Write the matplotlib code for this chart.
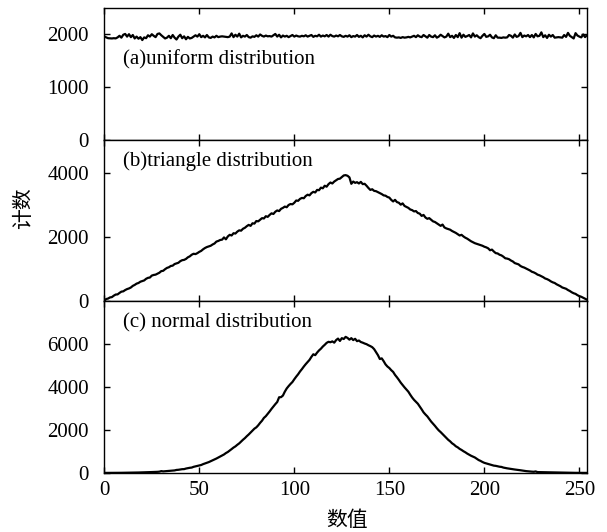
import numpy as np
import matplotlib
matplotlib.use("Agg")
import matplotlib.pyplot as plt

# 数据（从原图读出的各灰度级计数）
uniform_counts = [
    1965, 1945, 1930, 1928, 1925, 1930, 1926, 1945, 1975, 1940, 1995, 2010, 1960, 2005, 1950, 1990,
    1925, 1960, 1920, 1950, 1895, 1945, 1930, 1985, 1960, 2005, 1975, 1950, 2010, 2020, 1985, 1955,
    1925, 1940, 1975, 1930, 1990, 1940, 1905, 1960, 1995, 1930, 1965, 1910, 1955, 1925, 1935, 1960,
    1985, 1960, 2005, 1950, 1975, 1945, 1990, 1945, 1935, 1960, 1945, 1975, 1950, 1960, 1965, 1960,
    1955, 1950, 1960, 2020, 1950, 1995, 1960, 2015, 1945, 1975, 1960, 1990, 1950, 1940, 1965, 1955,
    1985, 1960, 2000, 1975, 1960, 1980, 1965, 1970, 1960, 1985, 2010, 1960, 1995, 1945, 1980, 1960,
    1975, 1950, 1970, 1990, 1960, 1980, 1965, 1960, 1975, 1965, 1985, 1960, 1975, 1990, 1955, 1975,
    1965, 1995, 1960, 1980, 1965, 1990, 1960, 1995, 1970, 1960, 1980, 1965, 1990, 1965, 1955, 1975,
    1960, 1985, 1950, 1970, 1960, 1990, 1955, 1975, 1945, 1985, 1960, 1995, 1965, 1950, 1980, 1960,
    1975, 1955, 1985, 1960, 1970, 1950, 1990, 1960, 1975, 1945, 1940, 1945, 1935, 1950, 1940, 1945,
    1955, 1945, 1960, 1975, 1950, 1985, 1960, 1950, 1990, 1965, 1940, 1990, 1960, 1950, 1985, 1940,
    1960, 1995, 1970, 1945, 1960, 2015, 1950, 1975, 1935, 1990, 1950, 2025, 1940, 1995, 1955, 1970,
    1990, 1945, 2020, 1960, 1985, 1950, 1930, 1975, 2010, 1955, 1965, 1995, 1945, 1930, 1985, 1940,
    1940, 1935, 1945, 1940, 1945, 1990, 1975, 1940, 2000, 1955, 1970, 2030, 1950, 1980, 1965, 1990,
    1950, 1990, 1945, 2010, 1965, 1975, 2040, 1950, 1985, 1935, 1995, 1960, 1990, 1940, 1945, 1950,
    1945, 1940, 1990, 1955, 2030, 1975, 1950, 1925, 2025, 1980, 1960, 1945, 2000, 1950, 1985, 1955,
]

triangle_counts = [
    10, 60, 75, 110, 120, 165, 200, 205, 250, 290, 300, 340, 370, 390, 420, 470,
    500, 540, 560, 600, 620, 640, 690, 720, 730, 790, 810, 820, 850, 880, 930, 940,
    990, 1030, 1050, 1090, 1100, 1150, 1170, 1190, 1240, 1270, 1280, 1310, 1360, 1390, 1440, 1470,
    1460, 1490, 1530, 1560, 1610, 1650, 1680, 1700, 1720, 1760, 1790, 1850, 1870, 1900, 1910, 1980,
    1920, 2010, 2060, 2040, 2110, 2100, 2160, 2200, 2190, 2250, 2280, 2330, 2370, 2340, 2420, 2410,
    2490, 2480, 2530, 2580, 2570, 2640, 2620, 2680, 2730, 2710, 2780, 2820, 2800, 2870, 2900, 2940,
    2920, 2990, 3020, 3010, 3060, 3130, 3120, 3180, 3210, 3200, 3270, 3310, 3290, 3360, 3400, 3380,
    3460, 3450, 3530, 3510, 3590, 3560, 3640, 3690, 3660, 3720, 3760, 3800, 3810, 3860, 3910, 3920,
    3900, 3850, 3650, 3720, 3680, 3700, 3660, 3710, 3640, 3650, 3590, 3520, 3460, 3480, 3430, 3420,
    3390, 3360, 3330, 3290, 3280, 3240, 3220, 3150, 3100, 3150, 3080, 3060, 3000, 3040, 2960, 2930,
    2900, 2850, 2830, 2790, 2800, 2740, 2720, 2650, 2680, 2600, 2560, 2580, 2530, 2480, 2460, 2420,
    2380, 2340, 2380, 2290, 2260, 2240, 2220, 2180, 2150, 2120, 2080, 2040, 2060, 2010, 1970, 1940,
    1900, 1860, 1830, 1800, 1780, 1760, 1740, 1720, 1690, 1670, 1640, 1580, 1600, 1540, 1490, 1480,
    1440, 1420, 1380, 1330, 1320, 1300, 1260, 1230, 1180, 1160, 1140, 1090, 1060, 1040, 1010, 980,
    950, 910, 890, 860, 820, 800, 770, 740, 700, 680, 650, 610, 580, 560, 520, 490,
    460, 420, 400, 380, 340, 310, 270, 240, 220, 180, 150, 130, 100, 70, 40, 10,
]

normal_counts = [
    2, 2, 3, 3, 4, 4, 5, 6, 6, 7, 8, 9, 10, 12, 13, 15,
    17, 19, 21, 23, 26, 29, 31, 35, 38, 41, 45, 50, 52, 60, 85, 72,
    80, 83, 98, 104, 115, 118, 140, 147, 160, 175, 178, 205, 224, 240, 250, 285,
    305, 330, 345, 370, 410, 440, 470, 505, 545, 585, 630, 670, 720, 765, 810, 860,
    925, 975, 1040, 1110, 1180, 1235, 1310, 1375, 1460, 1545, 1620, 1710, 1790, 1880, 1975, 2060,
    2120, 2215, 2330, 2430, 2560, 2640, 2750, 2860, 2980, 3090, 3200, 3300, 3520, 3525, 3600, 3780,
    3930, 4040, 4140, 4230, 4360, 4480, 4590, 4720, 4830, 4950, 5060, 5160, 5260, 5400, 5520, 5480,
    5600, 5700, 5780, 5880, 5960, 6050, 6100, 6080, 6120, 6060, 6180, 6250, 6140, 6270, 6230, 6330,
    6280, 6200, 6270, 6180, 6240, 6130, 6160, 6090, 6060, 6020, 5990, 5940, 5900, 5850, 5760, 5620,
    5480, 5300, 5330, 5200, 5050, 4950, 4880, 4780, 4700, 4560, 4450, 4330, 4200, 4090, 3980, 3880,
    3780, 3640, 3510, 3400, 3310, 3220, 3090, 2960, 2820, 2720, 2630, 2510, 2390, 2290, 2190, 2080,
    1980, 1900, 1810, 1720, 1630, 1540, 1470, 1380, 1320, 1240, 1190, 1120, 1070, 1010, 960, 900,
    850, 800, 760, 720, 660, 600, 560, 510, 470, 445, 420, 390, 365, 340, 330, 310,
    290, 280, 250, 230, 215, 200, 180, 170, 160, 150, 140, 125, 110, 95, 85, 75,
    68, 60, 55, 70, 40, 38, 35, 35, 32, 29, 26, 24, 21, 19, 17, 15,
    13, 12, 10, 9, 8, 7, 6, 6, 5, 4, 4, 3, 3, 2, 2, 2,
]

panel_labels = ["(a)uniform distribution", "(b)triangle distribution", "(c) normal distribution"]
panel_ylims = [2500, 5000, 8000]
panel_yticks = [[0, 1000, 2000], [0, 2000, 4000], [0, 2000, 4000, 6000]]
label_ypos = [0.61, 0.87, 0.87]
x_ticks = [0, 50, 100, 150, 200, 250]

plt.rcParams["font.family"] = ["Liberation Serif", "DejaVu Serif"]
plt.rcParams["font.size"] = 15

fig, axes = plt.subplots(
    3, 1, sharex=True, figsize=(6.07, 5.32), dpi=100,
    gridspec_kw={"height_ratios": [132.5, 160.5, 172]},
)
fig.subplots_adjust(left=0.1718, right=0.967, top=0.985, bottom=0.111, hspace=0)

series = [uniform_counts, triangle_counts, normal_counts]
for ax, values, label, ytop, yticks, ly in zip(axes, series, panel_labels,
                                               panel_ylims, panel_yticks, label_ypos):
    x = np.arange(len(values))
    ax.plot(x, values, color="black", linewidth=1.6)
    ax.set_ylim(0, ytop)
    ax.set_yticks(yticks)
    ax.set_xlim(0, 254)
    ax.set_xticks(x_ticks)
    ax.tick_params(direction="in", top=True, right=True, length=4, width=1, labelsize=15)
    ax.tick_params(axis="y", pad=11)
    ax.tick_params(axis="x", pad=6)
    for sp in ax.spines.values():
        sp.set_linewidth(1.0)
    ax.text(0.038, ly, label, transform=ax.transAxes, fontsize=15, ha="left", va="center")

cjk = ["Noto Sans CJK SC", "DejaVu Sans"]
fig.text(23 / 607, 1 - 208 / 532, "计数", rotation=90, ha="center", va="center",
         fontsize=15, family=cjk)
fig.text(347 / 607, 1 - 520 / 532, "数值", ha="center", va="center",
         fontsize=15, family=cjk)

fig.savefig("out.png", dpi=100)
